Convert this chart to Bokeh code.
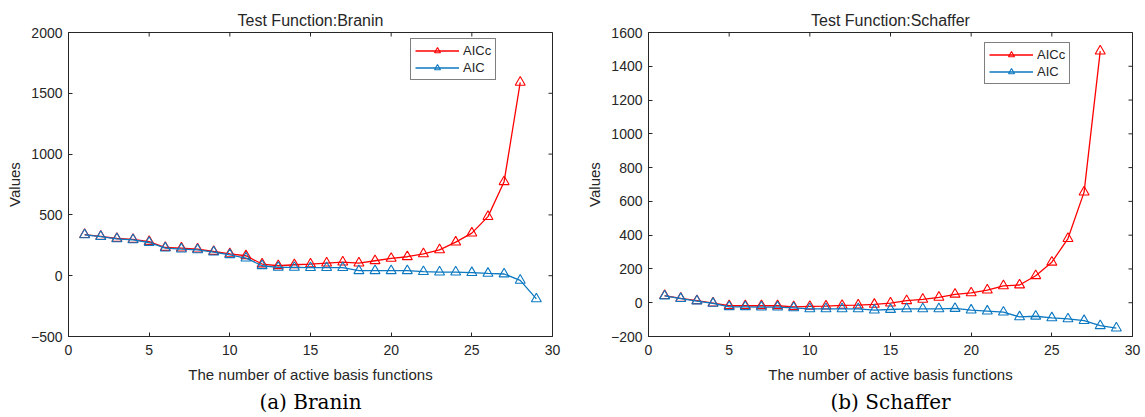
import math

from bokeh.plotting import figure
from bokeh.layouts import row
from bokeh.models import Range1d, Legend, LegendItem, Title, FixedTicker
from bokeh.embed import file_html
from bokeh.resources import INLINE

# number of active basis functions
n_aic = list(range(1, 30))
n_aicc = list(range(1, 29))

# Branin
branin_aicc = [338, 324, 306, 298, 281, 232, 227, 219, 199, 180, 164, 96, 82, 90,
               96, 104, 112, 104, 123, 142, 156, 180, 213, 276, 350, 486, 773, 1590]
branin_aic = [336, 322, 303, 295, 273, 227, 219, 213, 194, 172, 145, 82, 68, 68,
              66, 66, 66, 41, 41, 41, 41, 33, 30, 30, 25, 19, 14, -38, -191]

# Schaffer
schaffer_aicc = [42, 26, 12, -2, -18, -18, -18, -18, -24, -22, -20, -16, -14, -10,
                 -2, 12, 20, 32, 50, 58, 75, 100, 105, 160, 240, 380, 655, 1490]
schaffer_aic = [40, 24, 10, -4, -24, -24, -26, -26, -30, -36, -36, -36, -36, -44,
                -40, -36, -36, -36, -34, -44, -50, -56, -84, -80, -90, -96, -106, -136, -150]

x_ticks = [0, 5, 10, 15, 20, 25, 30]
branin_ticks = [-500, 0, 500, 1000, 1500, 2000]
schaffer_ticks = [-200, 0, 200, 400, 600, 800, 1000, 1200, 1400, 1600]

RED = "#ff0000"
BLUE = "#0b78c0"
AX = "#262626"
FONT = "Liberation Sans"


def panel(title, caption, aicc, aic, yticks, width, left, right, legend_xy):
    x0, x1 = x_ticks[0], x_ticks[-1]
    y0, y1 = yticks[0], yticks[-1]
    p = figure(width=width, height=417, output_backend="svg", toolbar_location=None,
               x_range=Range1d(x0, x1), y_range=Range1d(y0, y1),
               min_border_left=left, min_border_right=right,
               min_border_top=32, min_border_bottom=81)
    p.grid.visible = False
    p.outline_line_color = AX
    p.background_fill_color = "white"
    p.border_fill_color = "white"

    p.title.text = title
    p.title.align = "center"
    p.title.text_font = FONT
    p.title.text_font_size = "16px"
    p.title.text_font_style = "normal"
    p.title.text_color = AX
    p.title.standoff = 8

    p.xaxis.ticker = FixedTicker(ticks=x_ticks)
    p.yaxis.ticker = FixedTicker(ticks=yticks)
    p.xaxis.axis_label = "The number of active basis functions"
    p.yaxis.axis_label = "Values"
    for ax in (p.xaxis[0], p.yaxis[0]):
        ax.axis_line_color = AX
        ax.major_tick_line_color = AX
        ax.major_tick_in = 4
        ax.major_tick_out = 0
        ax.minor_tick_line_color = None
        ax.major_label_text_font = FONT
        ax.major_label_text_font_size = "14px"
        ax.major_label_text_color = AX
        ax.axis_label_text_font = FONT
        ax.axis_label_text_font_size = "15px"
        ax.axis_label_text_font_style = "normal"
        ax.axis_label_text_color = AX
    p.xaxis.major_label_standoff = 8
    p.xaxis.axis_label_standoff = 8
    p.yaxis.major_label_standoff = 6
    p.yaxis.axis_label_standoff = 5

    # inward ticks on the top and right edges of the box (half of each
    # dash falls outside the frame and is clipped away)
    p.scatter(x_ticks, [y1] * len(x_ticks), marker="dash", angle=math.pi / 2,
              size=8, line_color=AX, line_width=1)
    p.scatter([x1] * len(yticks), yticks, marker="dash", size=8,
              line_color=AX, line_width=1)

    l1 = p.line(n_aicc, aicc, line_color=RED, line_width=1.3)
    m1 = p.scatter(n_aicc, aicc, marker="triangle", size=10, line_color=RED,
                   fill_color=None, line_width=1.1)
    l2 = p.line(n_aic, aic, line_color=BLUE, line_width=1.3)
    m2 = p.scatter(n_aic, aic, marker="triangle", size=10, line_color=BLUE,
                   fill_color=None, line_width=1.1)

    legend = Legend(items=[LegendItem(label="AICc", renderers=[l1, m1]),
                           LegendItem(label="AIC", renderers=[l2, m2])],
                    location=legend_xy, margin=0, padding=4, spacing=2,
                    glyph_width=44, glyph_height=15, label_height=15,
                    label_standoff=4, label_text_font=FONT,
                    label_text_font_size="13px", label_text_color=AX,
                    border_line_color="#000000", border_line_width=1,
                    background_fill_color="white", background_fill_alpha=1)
    p.add_layout(legend, "center")

    cap = Title(text=caption, align="center", text_font="DejaVu Serif",
                text_font_size="20px", text_font_style="normal",
                text_color="#000000", standoff=4)
    p.add_layout(cap, "below")
    return p


p1 = panel("Test Function:Branin", "(a) Branin", branin_aicc, branin_aic,
           branin_ticks, 580, 68, 28, (342, 256))
p2 = panel("Test Function:Schaffer", "(b) Schaffer", schaffer_aicc, schaffer_aic,
           schaffer_ticks, 565, 68, 13, (336, 252))

layout = row(p1, p2)
open("out.html", "w").write(file_html(layout, INLINE))
